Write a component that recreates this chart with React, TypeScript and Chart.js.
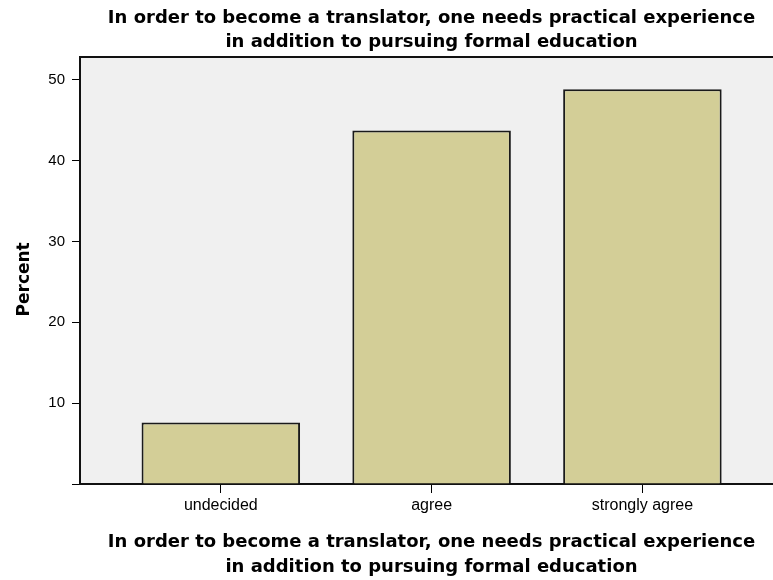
import React, { useEffect, useRef } from "react";
import { Chart, registerables } from "chart.js";

Chart.register(...registerables);

const titleLines = [
  "In order to become a translator, one needs practical experience",
  "in addition to pursuing formal education",
];
const categories = ["undecided", "agree", "strongly agree"];
const percents = [7.6, 43.7, 48.8];
const yTicks = [0, 10, 20, 30, 40, 50];
const yAxisTitle = "Percent";

const plotBg = {
  id: "plotBg",
  beforeDraw(chart: any) {
    const { ctx, chartArea } = chart;
    ctx.save();
    ctx.fillStyle = "#F0F0F0";
    ctx.fillRect(chartArea.left, chartArea.top, chartArea.right - chartArea.left, chartArea.bottom - chartArea.top);
    ctx.restore();
  },
  afterDraw(chart: any) {
    const { ctx, chartArea } = chart;
    ctx.save();
    ctx.strokeStyle = "#111";
    ctx.lineWidth = 2;
    ctx.beginPath();
    ctx.moveTo(chartArea.left - 1, chartArea.top);
    ctx.lineTo(chartArea.right, chartArea.top);
    ctx.stroke();
    ctx.restore();
  },
};

export default function App() {
  const ref = useRef<HTMLCanvasElement | null>(null);

  useEffect(() => {
    if (!ref.current) return;
    const chart = new Chart(ref.current, {
      type: "bar",
      data: {
        datasets: [
          {
            data: percents.map((v, i) => ({ x: i, y: v })),
            backgroundColor: "#D3CE97",
            borderColor: "#1a1a1a",
            borderWidth: 2,
            borderSkipped: "bottom",
            categoryPercentage: 1,
            barPercentage: 0.752,
          },
        ],
      },
      plugins: [plotBg],
      options: {
        animation: false,
        responsive: false,
        devicePixelRatio: 1,
        layout: { padding: { left: 0, right: 17, top: 0, bottom: 0 } },
        plugins: {
          legend: { display: false },
          tooltip: { enabled: false },
          title: {
            display: true,
            text: titleLines,
            fullSize: false,
            color: "#000",
            font: { family: "'DejaVu Sans'", weight: "bold", size: 18, lineHeight: 24 / 18 },
            padding: { top: 6, bottom: 3 },
          },
        },
        scales: {
          x: {
            type: "linear",
            offset: false,
            min: -0.668,
            max: 2.667,
            afterBuildTicks: (scale: any) => {
              scale.ticks = categories.map((_, i) => ({ value: i }));
            },
            afterFit: (scale: any) => {
              scale.height = 96;
            },
            ticks: {
              color: "#000",
              font: { family: "'Liberation Sans'", size: 16 },
              padding: 3,
              maxRotation: 0,
              autoSkip: false,
              callback: (v: any) => categories[v] ?? "",
            },
            grid: {
              offset: false,
              drawOnChartArea: false,
              drawTicks: true,
              tickLength: 9,
              color: "#000",
              lineWidth: 1,
            },
            border: { display: true, color: "#111", width: 2 },
            title: {
              display: true,
              text: titleLines,
              color: "#000",
              font: { family: "'DejaVu Sans'", weight: "bold", size: 18, lineHeight: 25 / 18 },
              padding: { top: 0, bottom: 0.5 },
            },
          },
          y: {
            type: "linear",
            min: 0,
            max: 52.8,
            afterBuildTicks: (scale: any) => {
              scale.ticks = yTicks.map((v) => ({ value: v }));
            },
            afterFit: (scale: any) => {
              scale.width = 80;
            },
            ticks: {
              color: "#000",
              font: { family: "'Liberation Sans'", size: 15 },
              padding: 7,
              callback: (v: any) => (v === 0 ? "" : String(v)),
            },
            grid: {
              drawOnChartArea: false,
              drawTicks: true,
              tickLength: 8,
              color: "#000",
              lineWidth: 1,
            },
            border: { display: true, color: "#111", width: 2 },
            title: {
              display: true,
              text: yAxisTitle + "   ",
              color: "#000",
              font: { family: "'DejaVu Sans'", weight: "bold", size: 17, lineHeight: 1.2 },
              padding: { top: 14, bottom: 0 },
            },
          },
        },
      },
    });
    return () => chart.destroy();
  }, []);

  return (
    <div style={{ position: "absolute", left: 0, top: 0, width: 773, height: 580, overflow: "hidden", background: "#fff" }}>
      <canvas ref={ref} width={800} height={580} style={{ display: "block", width: 800, height: 580 }} />
    </div>
  );
}
